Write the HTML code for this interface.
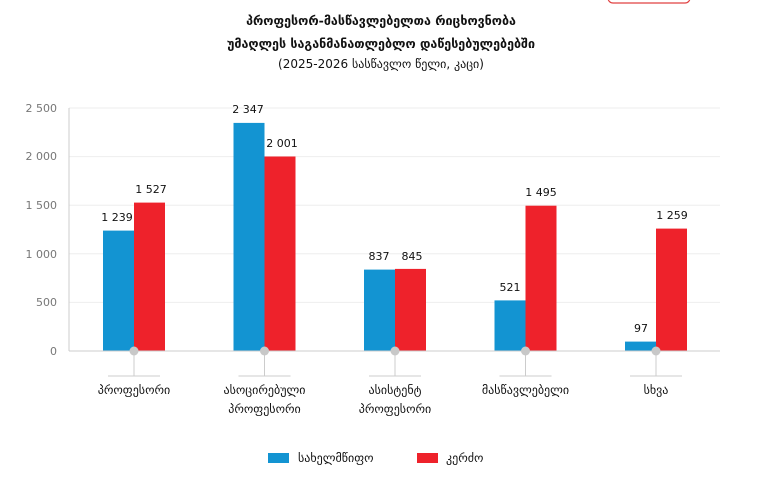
<!DOCTYPE html>
<html><head><meta charset="utf-8"><style>
body{margin:0;background:#fff;}
svg text{font-family:"DejaVu Sans","Liberation Sans",sans-serif;}
</style></head><body>
<svg width="762" height="489" viewBox="0 0 762 489" xmlns="http://www.w3.org/2000/svg">
<rect x="608" y="-12" width="82" height="15" rx="5" fill="none" stroke="#e04040" stroke-width="1.2"/>
<g text-anchor="middle" fill="#111">
<text x="381" y="25" font-size="12.5" font-weight="bold">პროფესორ-მასწავლებელთა რიცხოვნობა</text>
<text x="381" y="48" font-size="12.5" font-weight="bold">უმაღლეს საგანმანათლებლო დაწესებულებებში</text>
<text x="381" y="68" font-size="12">(2025-2026 სასწავლო წელი, კაცი)</text>
</g>
<g stroke="#eeeeee" stroke-width="1">
<line x1="69" x2="720" y1="108" y2="108"/><line x1="69" x2="720" y1="156.6" y2="156.6"/>
<line x1="69" x2="720" y1="205.2" y2="205.2"/><line x1="69" x2="720" y1="253.8" y2="253.8"/>
<line x1="69" x2="720" y1="302.4" y2="302.4"/>
</g>
<line x1="69" x2="69" y1="108" y2="351" stroke="#ccc"/>
<g font-size="11" fill="#777" text-anchor="end">
<text x="57" y="112">2 500</text><text x="57" y="160">2 000</text><text x="57" y="209">1 500</text>
<text x="57" y="258">1 000</text><text x="57" y="306">500</text><text x="57" y="355">0</text>
</g>
<g>
<rect x="103" y="230.6" width="31" height="120.4" fill="#1394d2"/><rect x="134" y="202.6" width="31" height="148.4" fill="#ee222b"/>
<rect x="233.5" y="122.9" width="31" height="228.1" fill="#1394d2"/><rect x="264.5" y="156.5" width="31" height="194.5" fill="#ee222b"/>
<rect x="364" y="269.6" width="31" height="81.4" fill="#1394d2"/><rect x="395" y="268.9" width="31" height="82.1" fill="#ee222b"/>
<rect x="494.5" y="300.4" width="31" height="50.6" fill="#1394d2"/><rect x="525.5" y="205.7" width="31" height="145.3" fill="#ee222b"/>
<rect x="625" y="341.6" width="31" height="9.4" fill="#1394d2"/><rect x="656" y="228.6" width="31" height="122.4" fill="#ee222b"/>
</g>
<g font-size="11" fill="#111" text-anchor="middle">
<text x="117" y="221">1 239</text><text x="151" y="193">1 527</text>
<text x="248" y="113">2 347</text><text x="282" y="147">2 001</text>
<text x="379" y="260">837</text><text x="412" y="260">845</text>
<text x="510" y="291">521</text><text x="541" y="196">1 495</text>
<text x="641" y="332">97</text><text x="672" y="219">1 259</text>
</g>
<line x1="69" x2="720" y1="351" y2="351" stroke="#ccc"/>
<g stroke="#ccc" stroke-width="1">
<line x1="134" x2="134" y1="351" y2="376"/><line x1="108" x2="160" y1="376" y2="376"/>
<line x1="264.5" x2="264.5" y1="351" y2="376"/><line x1="238.5" x2="290.5" y1="376" y2="376"/>
<line x1="395" x2="395" y1="351" y2="376"/><line x1="369" x2="421" y1="376" y2="376"/>
<line x1="525.5" x2="525.5" y1="351" y2="376"/><line x1="499.5" x2="551.5" y1="376" y2="376"/>
<line x1="656" x2="656" y1="351" y2="376"/><line x1="630" x2="682" y1="376" y2="376"/>
</g>
<g fill="#c8c8c8">
<circle cx="134" cy="351" r="4.5"/><circle cx="264.5" cy="351" r="4.5"/><circle cx="395" cy="351" r="4.5"/>
<circle cx="525.5" cy="351" r="4.5"/><circle cx="656" cy="351" r="4.5"/>
</g>
<g font-size="12" fill="#111" text-anchor="middle">
<text x="134" y="394">პროფესორი</text>
<text x="264.5" y="394">ასოცირებული</text><text x="264.5" y="413">პროფესორი</text>
<text x="395" y="394">ასისტენტ</text><text x="395" y="413">პროფესორი</text>
<text x="525.5" y="394">მასწავლებელი</text>
<text x="656" y="394">სხვა</text>
</g>
<rect x="268" y="453" width="21" height="10" fill="#1394d2"/>
<text x="298" y="462" font-size="12" fill="#111">სახელმწიფო</text>
<rect x="417" y="453" width="21" height="10" fill="#ee222b"/>
<text x="446" y="462" font-size="12" fill="#111">კერძო</text>
</svg>
</body></html>
